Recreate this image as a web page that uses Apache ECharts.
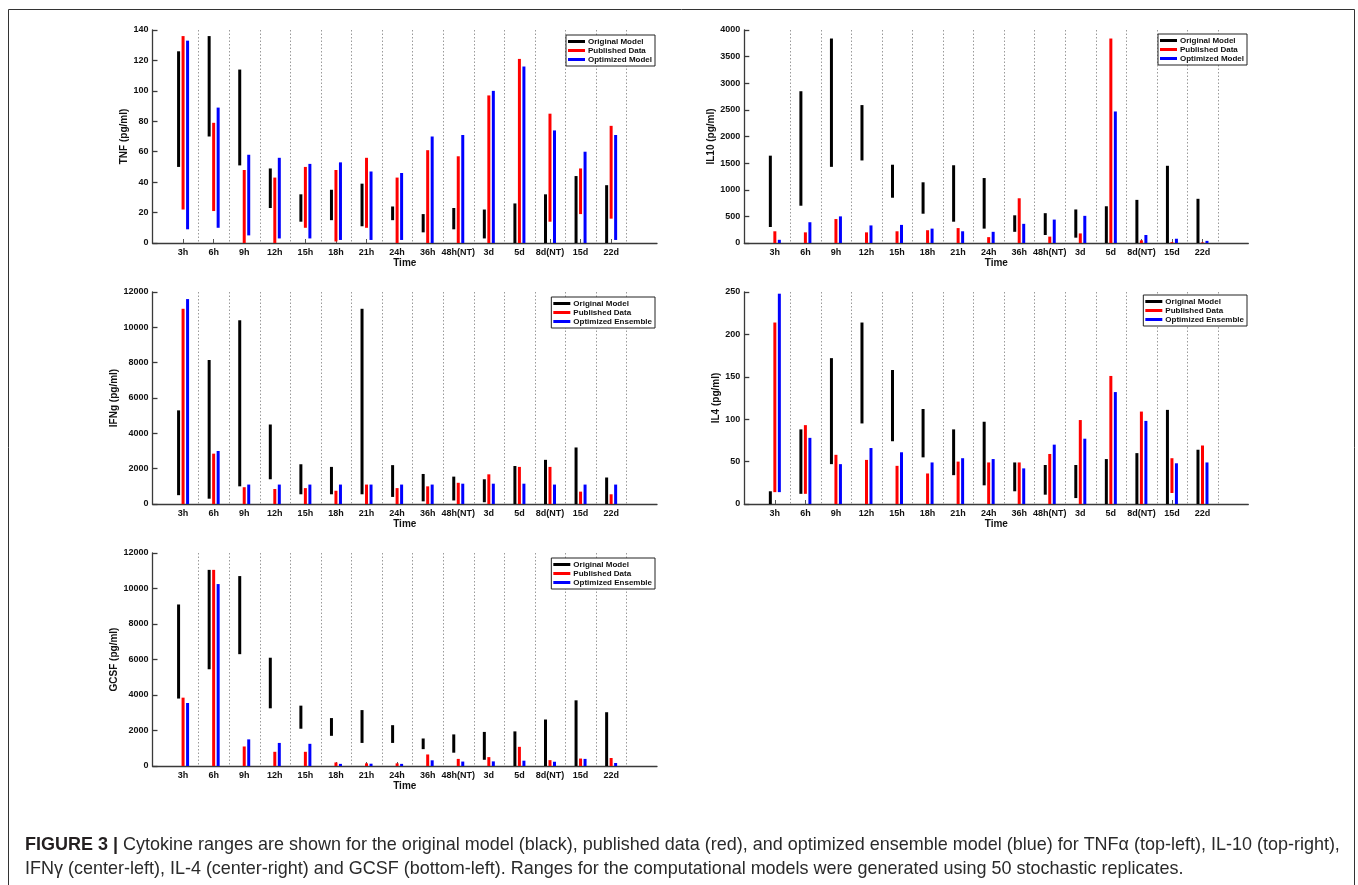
<!DOCTYPE html>
<html><head><meta charset="utf-8">
<script src="https://cdn.jsdelivr.net/npm/echarts@6/dist/echarts.min.js"></script>
<style>html,body{margin:0;padding:0;background:#fff}#c{width:1358px;height:885px}</style>
</head><body><div id="c"></div><script>
// ---------- data ----------
const categories = ['3h','6h','9h','12h','15h','18h','21h','24h','36h','48h(NT)','3d','5d','8d(NT)','15d','22d'];

const tnfOriginal  = [[50,126],[70,136],[51,114],[23,49],[14,32],[15,35],[11,39],[15,24],[7,19],[9,23],[3,22],[0,26],[0,32],[0,44],[0,38]];
const tnfPublished = [[22,136],[21,79],[0,48],[0,43],[10,50],[1,48],[10,56],[0,43],[0,61],[0,57],[0,97],[0,121],[14,85],[19,49],[16,77]];
const tnfOptimized = [[9,133],[10,89],[5,58],[3,56],[3,52],[2,53],[2,47],[2,46],[0,70],[0,71],[0,100],[0,116],[0,74],[0,60],[2,71]];

const il10Original  = [[300,1640],[700,2850],[1430,3840],[1550,2590],[850,1470],[550,1140],[400,1460],[270,1220],[210,520],[150,560],[100,630],[0,690],[0,810],[0,1450],[0,830]];
const il10Published = [[0,220],[0,200],[0,450],[0,200],[0,220],[0,240],[0,280],[0,110],[0,840],[0,120],[0,180],[0,3840],[0,50],[0,15],[0,10]];
const il10Optimized = [[0,60],[0,390],[0,500],[0,330],[0,340],[0,270],[0,220],[0,210],[0,360],[0,440],[0,510],[0,2470],[0,150],[0,80],[0,40]];

const ifngOriginal  = [[500,5300],[300,8150],[1000,10400],[1400,4500],[550,2250],[550,2100],[550,11050],[400,2200],[150,1700],[200,1550],[100,1400],[0,2150],[0,2500],[0,3200],[0,1500]];
const ifngPublished = [[0,11050],[0,2850],[0,950],[0,850],[0,900],[0,750],[0,1100],[0,900],[0,1000],[0,1200],[0,1680],[0,2100],[0,2100],[0,700],[0,550]];
const ifngOptimized = [[0,11600],[0,3000],[0,1100],[0,1100],[0,1100],[0,1100],[0,1100],[0,1100],[0,1100],[0,1150],[0,1150],[0,1150],[0,1100],[0,1100],[0,1100]];

const il4Original  = [[0,15],[12,88],[47,172],[95,214],[74,158],[55,112],[34,88],[22,97],[15,49],[11,46],[7,46],[0,53],[0,60],[0,111],[0,64]];
const il4Published = [[14,214],[12,93],[0,58],[0,52],[0,45],[0,36],[0,50],[0,49],[0,49],[0,59],[0,99],[0,151],[0,109],[13,54],[0,69]];
const il4Optimized = [[14,248],[0,78],[0,47],[0,66],[0,61],[0,49],[0,54],[0,53],[0,42],[0,70],[0,77],[0,132],[0,98],[0,48],[0,49]];

const gcsfOriginal  = [[3800,9100],[5450,11050],[6300,10700],[3250,6100],[2100,3400],[1700,2700],[1300,3150],[1300,2300],[950,1550],[750,1780],[350,1920],[0,1950],[0,2620],[0,3700],[0,3030]];
const gcsfPublished = [[0,3850],[0,11050],[0,1100],[0,800],[0,800],[0,200],[0,150],[0,150],[0,650],[0,400],[0,500],[0,1080],[0,330],[0,420],[0,450]];
const gcsfOptimized = [[0,3550],[0,10250],[0,1500],[0,1300],[0,1250],[0,120],[0,130],[0,120],[0,320],[0,250],[0,260],[0,300],[0,240],[0,400],[0,170]];

const yNames = ['TNF (pg/ml)','IL10 (pg/ml)','IFNg (pg/ml)','IL4 (pg/ml)','GCSF (pg/ml)'];
const yMax = [140, 4000, 12000, 250, 12000];
const yStep = [20, 500, 2000, 50, 2000];
const legendNamesModel = ['Original Model','Published Data','Optimized Model'];
const legendNamesEnsemble = ['Original Model','Published Data','Optimized Ensemble'];
const xTitle = 'Time';
const captionBold = 'FIGURE 3 |';
const captionLine1 = ' Cytokine ranges are shown for the original model (black), published data (red), and optimized ensemble model (blue) for TNF\u03b1 (top-left), IL-10 (top-right),';
const captionLine2 = 'IFN\u03b3 (center-left), IL-4 (center-right) and GCSF (bottom-left). Ranges for the computational models were generated using 50 stochastic replicates.';

const panelData = [
  [tnfOriginal, tnfPublished, tnfOptimized],
  [il10Original, il10Published, il10Optimized],
  [ifngOriginal, ifngPublished, ifngOptimized],
  [il4Original, il4Published, il4Optimized],
  [gcsfOriginal, gcsfPublished, gcsfOptimized]
];
const panelLegend = [legendNamesModel, legendNamesModel, legendNamesEnsemble, legendNamesEnsemble, legendNamesEnsemble];

// ---------- layout / style ----------
const layout = [
  {left:152.5, top:30,  width:504.5, height:213, nameGap:18},
  {left:744.3, top:30,  width:504,   height:213, nameGap:25},
  {left:152.5, top:292, width:504.5, height:212, nameGap:26},
  {left:744.3, top:292, width:504,   height:212, nameGap:18},
  {left:152.5, top:553, width:504.5, height:213, nameGap:28}
];
const legendPos = [
  {right:1358-655, top:35},
  {right:1358-1247, top:34},
  {right:1358-655, top:297},
  {right:1358-1247, top:295},
  {right:1358-655, top:558}
];
const seriesColors = ['#000000','#ff0000','#0000ff'];
const barOffsets = [-4.5, 0, 4.5];
const FONT = '"Liberation Sans", Arial, Helvetica, sans-serif';
const axisColor = '#3a3a3a';

const chart = echarts.init(document.getElementById('c'), null, {renderer:'canvas'});

const grids = [], xAxes = [], yAxes = [], series = [], legends = [];
const tickValues = categories.map((c,i)=>i+1);

layout.forEach((L, p) => {
  grids.push({left:L.left, top:L.top, width:L.width, height:L.height, containLabel:false});
  xAxes.push({
    type:'value', gridIndex:p, min:0, max:16.5, interval:1,
    name:xTitle, nameLocation:'middle', nameGap:14,
    nameTextStyle:{fontFamily:FONT, fontWeight:'bold', fontSize:10, color:'#111'},
    axisLine:{show:true, onZero:false, lineStyle:{color:axisColor, width:1.3}},
    axisTick:{show:true, inside:true, length:4, customValues:tickValues, lineStyle:{color:'#555', width:1}},
    axisLabel:{show:true, customValues:tickValues, margin:5, fontFamily:FONT, fontWeight:'bold', fontSize:9, color:'#111',
      formatter:(v)=>{ const i=Math.round(v); return (Math.abs(v-i)<1e-6 && i>=1 && i<=categories.length) ? categories[i-1] : ''; }},
    splitLine:{show:false}
  });
  yAxes.push({
    type:'value', gridIndex:p, min:0, max:yMax[p], interval:yStep[p],
    name:yNames[p], nameLocation:'middle', nameGap:L.nameGap, nameRotate:90,
    nameTextStyle:{fontFamily:FONT, fontWeight:'bold', fontSize:10, color:'#111'},
    axisLine:{show:true, lineStyle:{color:axisColor, width:1.3}},
    axisTick:{show:true, inside:true, length:5, lineStyle:{color:axisColor, width:1.3}},
    axisLabel:{margin:4, fontFamily:FONT, fontWeight:'bold', fontSize:9, color:'#111', formatter:(v)=>String(v)},
    splitLine:{show:false}
  });
  // separators between time points
  series.push({
    type:'custom', xAxisIndex:p, yAxisIndex:p, silent:true, z:1,
    data: categories.map((c,i)=>[i+1.5]),
    encode:{x:0},
    renderItem:(params, api)=>{
      const cs = params.coordSys;
      const pt = api.coord([api.value(0), 0]);
      const x = Math.round(pt[0]) + 0.5;
      return {type:'line', shape:{x1:x, y1:cs.y, x2:x, y2:cs.y+cs.height},
        style:{stroke:'#9a9a9a', lineWidth:1, lineDash:[1.5,2]}};
    }
  });
  panelData[p].forEach((arr, s) => {
    const off = barOffsets[s];
    const col = seriesColors[s];
    series.push({
      type:'custom', name:panelLegend[p][s], xAxisIndex:p, yAxisIndex:p, z:3,
      itemStyle:{color:col},
      data: arr.map((r,i)=>[i+1, r[0], r[1]]),
      encode:{x:0, y:[1,2]},
      renderItem:(params, api)=>{
        const x = api.value(0);
        const lo = api.coord([x, api.value(1)]);
        const hi = api.coord([x, api.value(2)]);
        return {type:'rect', shape:{x: lo[0]+off-1.5, y: hi[1], width:3, height: lo[1]-hi[1]},
          style:{fill: col}};
      }
    });
  });
  legends.push({
    data: panelLegend[p], orient:'vertical', right:legendPos[p].right, top:legendPos[p].top,
    icon:'rect', itemWidth:17, itemHeight:3, itemGap:0, padding:[2,3,2,2],
    borderColor:'#222', borderWidth:1, backgroundColor:'#fff',
    selectedMode:false,
    textStyle:{fontFamily:FONT, fontWeight:'bold', fontSize:8, color:'#111', padding:[0,0,0,-2], lineHeight:9}
  });
});

// caption sizing to match the reference line width
function measure(text, font){ const c=document.createElement('canvas').getContext('2d'); c.font=font; return c.measureText(text).width; }
const baseSize = 15;
const w1 = measure(captionBold, 'bold '+baseSize+'px '+FONT) + measure(captionLine1, baseSize+'px '+FONT);
const capSize = baseSize * 1316 / w1;

chart.setOption({
  animation:false,
  backgroundColor:'#ffffff',
  grid:grids, xAxis:xAxes, yAxis:yAxes, legend:legends, series:series,
  graphic:[
    {type:'rect', shape:{x:8.5, y:9.5, width:1346, height:900}, style:{fill:'none', stroke:'#333', lineWidth:1}, silent:true},
    {type:'text', x:25, y:845, silent:true,
      style:{text:'{b|'+captionBold+'}'+captionLine1, fontFamily:FONT, fontSize:capSize, fill:'#2a2a2a', verticalAlign:'middle',
        rich:{b:{fontFamily:FONT, fontSize:capSize, fontWeight:'bold', fill:'#231f20'}}}},
    {type:'text', x:25, y:869.5, silent:true,
      style:{text:captionLine2, fontFamily:FONT, fontSize:capSize, fill:'#2a2a2a', verticalAlign:'middle'}}
  ]
});
</script></body></html>
